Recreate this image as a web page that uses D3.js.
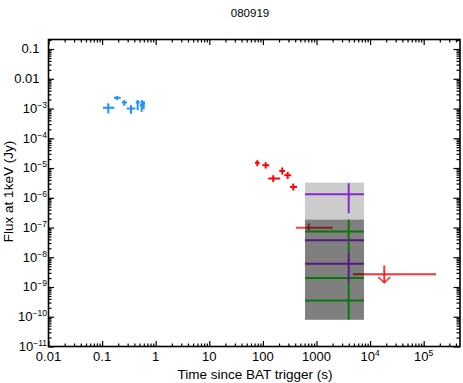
<!DOCTYPE html>
<html>
<head>
<meta charset="utf-8">
<script src="https://cdn.jsdelivr.net/npm/d3@7"></script>
<style>
  body { margin: 0; background: #fff; }
  text { font-family: "Liberation Sans", Arial, sans-serif; fill: #000; }
</style>
</head>
<body>
<svg width="463" height="383"></svg>
<script>
// optical (blue) points: time, time range, flux, flux range
const optT   = [0.1305, 0.190, 0.259, 0.346, 0.461, 0.548, 0.597];
const optTlo = [0.104, 0.167, 0.232, 0.288, 0.424, 0.510, 0.570];
const optThi = [0.169, 0.222, 0.291, 0.416, 0.503, 0.587, 0.630];
const optF   = [1.06e-3, 2.29e-3, 1.60e-3, 1.00e-3, 1.60e-3, 1.30e-3, 1.49e-3];
const optFlo = [6.84e-4, 1.92e-3, 1.23e-3, 6.63e-4, 8.83e-4, 7.74e-4, 9.55e-4];
const optFhi = [1.49e-3, 2.62e-3, 1.92e-3, 1.30e-3, 1.92e-3, 1.92e-3, 1.78e-3];

// X-ray (red) points
const xrtT   = [78.6, 112.8, 156, 230, 290, 369];
const xrtTlo = [71.2, 97.5, 126, 202, 251, 321];
const xrtThi = [87.2, 131.6, 208, 258, 334, 433];
const xrtF   = [1.49e-5, 1.24e-5, 4.43e-6, 7.98e-6, 5.73e-6, 2.31e-6];
const xrtFlo = [1.15e-5, 9.6e-6, 3.4e-6, 6.04e-6, 4.3e-6, 1.75e-6];
const xrtFhi = [1.83e-5, 1.57e-5, 5.73e-6, 1.04e-5, 7.4e-6, 3.0e-6];

// late X-ray point
const lateT   = [715];
const lateTlo = [415];
const lateThi = [2005];
const lateF   = [9.9e-8];
const lateFlo = [7.9e-8];
const lateFhi = [1.38e-7];

// X-ray upper limit
const ulT   = [1.84e4];
const ulTlo = [4.8e3];
const ulThi = [1.7e5];
const ulF   = [2.66e-9];
const ulTop = [5.3e-9];
const ulTip = [1.4e-9];

// shaded boxes
const boxT = [610, 7690];
const lightBox = [1.85e-7, 3.25e-6];
const darkBox = [7.9e-11, 1.85e-7];

// purple and green points inside the boxes
const bandT = 3990;
const purpleF   = [1.31e-6, 3.71e-8, 6.09e-9];
const purpleFlo = [3.0e-7, 3.71e-8, 1.40e-9];
const purpleFhi = [3.08e-6, 3.71e-8, 1.46e-8];
const greenF   = [7.28e-8, 2.0e-9, 3.54e-10];
const greenFlo = [1.46e-8, 2.0e-9, 7.9e-11];
const greenFhi = [1.85e-7, 2.0e-9, 1.40e-9];

// ticks
const xTicks = [0.01, 0.1, 1, 10, 100, 1000, 1e4, 1e5];
const xTickLabels = [["0.01"], ["0.1"], ["1"], ["10"], ["100"], ["1000"], ["10", "4"], ["10", "5"]];
const yTicks = [0.1, 0.01, 1e-3, 1e-4, 1e-5, 1e-6, 1e-7, 1e-8, 1e-9, 1e-10, 1e-11];
const yTickLabels = [["0.1"], ["0.01"], ["10", "\u22123"], ["10", "\u22124"], ["10", "\u22125"], ["10", "\u22126"],
  ["10", "\u22127"], ["10", "\u22128"], ["10", "\u22129"], ["10", "\u221210"], ["10", "\u221211"]];

const mLeft = 48.5, mRight = 460, mTop = 39.5, mBottom = 346.5;

const svg = d3.select("svg");

const x = d3.scaleLog().domain([0.01, 4.76e5]).range([mLeft, mRight]);
const y = d3.scaleLog().domain([1e-11, 0.209]).range([mBottom, mTop]);

const minorX = [];
for (let e = -2; e <= 5; e++) for (let m = 2; m <= 9; m++) {
  const v = m * Math.pow(10, e);
  if (v < 4.76e5) minorX.push(v);
}
const minorY = [];
for (let e = -11; e <= -1; e++) for (let m = 2; m <= 9; m++) {
  const v = m * Math.pow(10, e);
  if (v < 0.209) minorY.push(v);
}

// axes ticks (inward on all four sides)
function ticks(axis, tr) {
  const g = svg.append("g").attr("transform", tr).call(axis);
  g.select(".domain").remove();
  g.selectAll("line").attr("stroke", "#000").attr("stroke-width", 1.2);
  g.selectAll("text").remove();
}
ticks(d3.axisBottom(x).tickValues(xTicks).tickSize(-5.5).tickSizeOuter(0), `translate(0,${mBottom})`);
ticks(d3.axisBottom(x).tickValues(minorX).tickSize(-3).tickSizeOuter(0), `translate(0,${mBottom})`);
ticks(d3.axisTop(x).tickValues(xTicks).tickSize(-5.5).tickSizeOuter(0), `translate(0,${mTop})`);
ticks(d3.axisTop(x).tickValues(minorX).tickSize(-3).tickSizeOuter(0), `translate(0,${mTop})`);
ticks(d3.axisLeft(y).tickValues(yTicks).tickSize(-5.5).tickSizeOuter(0), `translate(${mLeft},0)`);
ticks(d3.axisLeft(y).tickValues(minorY).tickSize(-3).tickSizeOuter(0), `translate(${mLeft},0)`);
ticks(d3.axisRight(y).tickValues(yTicks).tickSize(-6.5).tickSizeOuter(0), `translate(${mRight},0)`);
ticks(d3.axisRight(y).tickValues(minorY).tickSize(-3.5).tickSizeOuter(0), `translate(${mRight},0)`);

svg.append("rect")
  .attr("x", mLeft).attr("y", mTop)
  .attr("width", mRight - mLeft).attr("height", mBottom - mTop)
  .attr("fill", "none").attr("stroke", "#000").attr("stroke-width", 1.6);

// tick labels
const xl = svg.append("g").attr("font-size", 13).attr("text-anchor", "middle");
xTicks.forEach((v, i) => {
  const t = xl.append("text").attr("x", x(v)).attr("y", 361);
  t.append("tspan").text(xTickLabels[i][0]);
  if (xTickLabels[i][1]) t.append("tspan").attr("dy", -5).attr("font-size", 8.5).text(xTickLabels[i][1]);
});
const yl = svg.append("g").attr("font-size", 13).attr("text-anchor", "end");
yTicks.forEach((v, i) => {
  const lab = yTickLabels[i];
  const t = yl.append("text").attr("x", lab[1] ? 47 : 39.5).attr("y", y(v) + 4.3);
  t.append("tspan").text(lab[0]);
  if (lab[1]) t.append("tspan").attr("dy", -5).attr("font-size", 8.5).text(lab[1]);
});

// titles
svg.append("text").attr("x", 250).attr("y", 16.7).attr("text-anchor", "middle")
  .attr("font-size", 11.5).text("080919");
svg.append("text").attr("x", 255).attr("y", 378.5).attr("text-anchor", "middle")
  .attr("font-size", 13.5).text("Time since BAT trigger (s)");
svg.append("text").attr("transform", "translate(13,191.5) rotate(-90)").attr("text-anchor", "middle")
  .attr("font-size", 13.5).text("Flux at 1keV (Jy)");

// error crosses
function crosses(T, Tlo, Thi, F, Flo, Fhi, color, opacity) {
  const g = svg.append("g").attr("stroke", color).attr("stroke-width", 2)
    .attr("stroke-opacity", opacity);
  T.forEach((t, i) => {
    g.append("line").attr("x1", x(Tlo[i])).attr("x2", x(Thi[i]))
      .attr("y1", y(F[i])).attr("y2", y(F[i]));
    if (Flo[i] !== Fhi[i]) {
      g.append("line").attr("x1", x(t)).attr("x2", x(t))
        .attr("y1", y(Flo[i])).attr("y2", y(Fhi[i]));
    }
  });
}

crosses(optT, optTlo, optThi, optF, optFlo, optFhi, "#1e90ff", 1);
crosses(xrtT, xrtTlo, xrtThi, xrtF, xrtFlo, xrtFhi, "#ff0000", 1);
crosses(lateT, lateTlo, lateThi, lateF, lateFlo, lateFhi, "#ff0000", 0.75);

// upper limit
const ul = svg.append("g").attr("stroke", "#ff0000").attr("stroke-width", 2).attr("stroke-opacity", 0.8)
  .attr("fill", "none");
ulT.forEach((t, i) => {
  ul.append("line").attr("x1", x(ulTlo[i])).attr("x2", x(ulThi[i]))
    .attr("y1", y(ulF[i])).attr("y2", y(ulF[i]));
  ul.append("line").attr("x1", x(t)).attr("x2", x(t))
    .attr("y1", y(ulTop[i])).attr("y2", y(ulTip[i]));
  ul.append("path").attr("stroke-width", 1.5)
    .attr("d", `M${x(t) - 6},${y(ulTip[i]) - 5.5}L${x(t)},${y(ulTip[i])}L${x(t) + 6},${y(ulTip[i]) - 5.5}`);
});

const bandTs = purpleF.map(() => bandT);
const bandLo = purpleF.map(() => boxT[0]);
const bandHi = purpleF.map(() => boxT[1]);
crosses(bandTs, bandLo, bandHi, greenF, greenFlo, greenFhi, "#12f012", 1);
crosses(bandTs, bandLo, bandHi, purpleF, purpleFlo, purpleFhi, "#aa33ff", 1);

// shaded boxes over everything
svg.append("rect")
  .attr("x", x(boxT[0])).attr("width", x(boxT[1]) - x(boxT[0]))
  .attr("y", y(lightBox[1])).attr("height", y(lightBox[0]) - y(lightBox[1]))
  .attr("fill", "#000").attr("fill-opacity", 0.2);
svg.append("rect")
  .attr("x", x(boxT[0])).attr("width", x(boxT[1]) - x(boxT[0]))
  .attr("y", y(darkBox[1])).attr("height", y(darkBox[0]) - y(darkBox[1]))
  .attr("fill", "#000").attr("fill-opacity", 0.5);
</script>
</body>
</html>
